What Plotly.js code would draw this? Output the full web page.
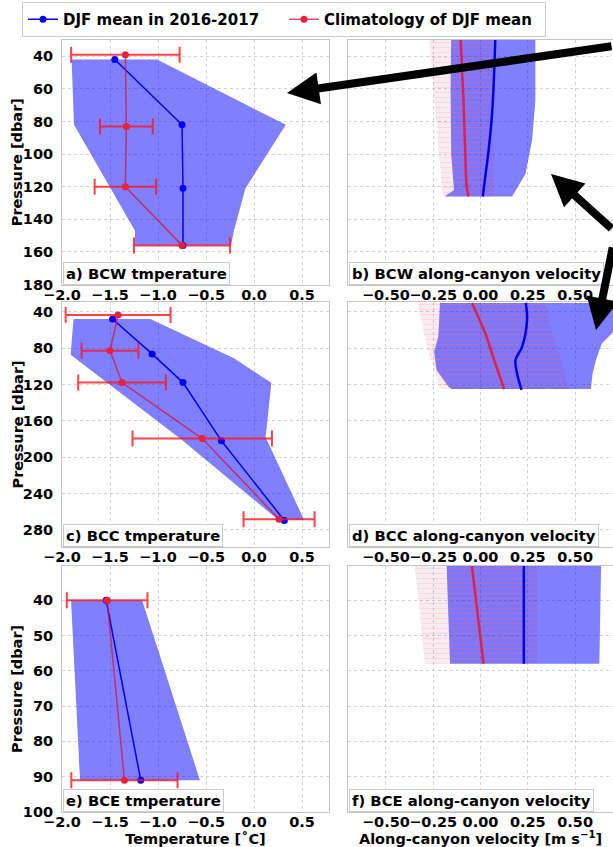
<!DOCTYPE html>
<html><head><meta charset="utf-8">
<script src="https://cdn.plot.ly/plotly-3.0.1.min.js"></script>
<style>html,body{margin:0;padding:0;background:#fff}</style>
</head><body><div id="chart" style="width:613px;height:847px"></div>
<script>
// ---------- Panel a: BCW temperature ----------
const bcwMeanT = [-1.45, -0.75, -0.74, -0.74];
const bcwMeanP = [42, 82, 121, 156];
const bcwClimT = [-1.34, -1.33, -1.34, -0.75];
const bcwClimP = [39, 83, 120, 156];
const bcwClimErr = [0.565, 0.275, 0.32, 0.50];
const bcwLoP = [42, 82, 147, 156];
const bcwLo = [-1.90, -1.875, -1.24, -1.24];
const bcwHiP = [42, 82, 121, 147, 156];
const bcwHi = [-1.01, 0.33, -0.09, -0.21, -0.24];

// ---------- Panel c: BCC temperature ----------
const bccMeanT = [-1.474, -1.062, -0.74, -0.34, 0.315];
const bccMeanP = [47.7, 86.2, 117.8, 182, 269.8];
const bccClimT = [-1.416, -1.50, -1.375, -0.54, 0.26];
const bccClimP = [43.3, 82.6, 117.8, 179.5, 268.3];
const bccClimErr = [0.546, 0.296, 0.456, 0.726, 0.37];
const bccLoP = [47.7, 87, 181, 269];
const bccLo = [-1.88, -1.91, -0.75, 0.25];
const bccHiP = [47.7, 91, 118, 178, 269];
const bccHi = [-1.08, -0.21, 0.18, 0.12, 0.52];

// ---------- Panel e: BCE temperature ----------
const bceMeanT = [-1.54, -1.18];
const bceMeanP = [40, 91];
const bceClimT = [-1.53, -1.35];
const bceClimP = [40, 91];
const bceClimErr = [0.42, 0.553];
const bceLoP = [40, 91];
const bceLo = [-1.906, -1.812];
const bceHiP = [40, 91];
const bceHi = [-1.166, -0.564];

// ---------- Panel b: BCW along-canyon velocity ----------
const bcwVelMeanP = [30, 59, 77, 97.5, 114, 126];
const bcwVelMean = [0.078, 0.069, 0.06, 0.043, 0.025, 0.012];
const bcwVelClimP = [30, 67, 97.5, 120, 126];
const bcwVelClim = [-0.105, -0.09, -0.081, -0.073, -0.064];
const bcwVelLoP = [30, 60, 100, 122, 126];
const bcwVelLo = [-0.155, -0.158, -0.155, -0.14, -0.19];
const bcwVelHiP = [30, 67, 91, 112, 126];
const bcwVelHi = [0.29, 0.29, 0.273, 0.238, 0.167];
const bcwVelClimBandP = [30, 126];
const bcwVelClimLo = [-0.27, -0.20];
const bcwVelClimHi = [0.06, 0.07];

// ---------- Panel d: BCC along-canyon velocity ----------
const bccVelMeanP = [30, 48.8, 78.2, 92.9, 107.5, 125.9];
const bccVelMean = [0.239, 0.246, 0.220, 0.185, 0.193, 0.217];
const bccVelClimP = [30, 63.5, 96.5, 125];
const bccVelClim = [-0.045, 0.025, 0.078, 0.125];
const bccVelLoP = [30, 67, 84, 104, 122, 125];
const bccVelLo = [-0.214, -0.223, -0.245, -0.232, -0.17, -0.152];
const bccVelHiP = [30, 58, 75, 93, 108, 125];
const bccVelHi = [0.76, 0.72, 0.64, 0.61, 0.592, 0.583];
const bccVelClimBandP = [30, 63.5, 86.8, 125];
const bccVelClimLo = [-0.33, -0.30, -0.27, -0.21];
const bccVelClimHi = [0.34, 0.38, 0.42, 0.47];

// ---------- Panel f: BCE along-canyon velocity ----------
const bceVelMeanP = [30, 58];
const bceVelMean = [0.229, 0.229];
const bceVelClimP = [30, 58];
const bceVelClim = [-0.046, 0.016];
const bceVelLoP = [30, 58];
const bceVelLo = [-0.179, -0.161];
const bceVelHiP = [30, 58];
const bceVelHi = [0.637, 0.628];
const bceVelClimBandP = [30, 58];
const bceVelClimLo = [-0.347, -0.294];
const bceVelClimHi = [0.30, 0.30];

// ---------- ticks / labels ----------
const tempTicks = [-2.0, -1.5, -1.0, -0.5, 0.0, 0.5];
const velTicks = [-0.50, -0.25, 0.00, 0.25, 0.50];
const bcwPTicks = [40, 60, 80, 100, 120, 140, 160, 180];
const bccPTicks = [40, 80, 120, 160, 200, 240, 280];
const bcePTicks = [40, 50, 60, 70, 80, 90, 100];
const panelLabels = ['a) BCW tmperature', 'b) BCW along-canyon velocity',
  'c) BCC tmperature', 'd) BCC along-canyon velocity',
  'e) BCE tmperature', 'f) BCE along-canyon velocity'];
const legendNames = ['DJF mean in 2016-2017', 'Climatology of DJF mean'];
const yTitle = 'Pressure [dbar]';
const xTitleLeft = 'Temperature [˚C]';
const xTitleRight = 'Along-canyon velocity [m s<sup>−1</sup>]';

// ---------- styles ----------
const BLUE = '#0000ff';
const RED = '#e8203c';
const SHADE = 'rgba(0,0,255,0.5)';
const FONT = 'DejaVu Sans';

function band(loP, lo, hiP, hi) {
  const x = lo.concat(hi.slice().reverse());
  const y = loP.concat(hiP.slice().reverse());
  return {x, y};
}

const traces = [];
function tempPanel(ax, loP, lo, hiP, hi, mT, mP, cT, cP, cErr, legend) {
  const b = band(loP, lo, hiP, hi);
  traces.push({type:'scatter', mode:'lines', x:b.x, y:b.y, fill:'toself', fillcolor:SHADE,
    line:{width:0}, xaxis:'x'+ax, yaxis:'y'+ax, showlegend:false, hoverinfo:'skip'});
  traces.push({type:'scatter', mode:'lines+markers', x:mT, y:mP, name:legendNames[0],
    line:{color:BLUE, width:1.5}, marker:{color:BLUE, size:7},
    xaxis:'x'+ax, yaxis:'y'+ax, showlegend:legend, legendrank:1});
  traces.push({type:'scatter', mode:'lines+markers', x:cT, y:cP, name:legendNames[1],
    line:{color:'rgba(215,20,60,0.75)', width:1.5}, marker:{color:RED, size:7},
    error_x:{type:'data', array:cErr, visible:true, color:'rgba(255,20,30,0.8)', thickness:2, width:8},
    xaxis:'x'+ax, yaxis:'y'+ax, showlegend:legend, legendrank:2});
}
function velPanel(ax, loP, lo, hiP, hi, bandP, bLo, bHi, mU, mP, cU, cP) {
  const b = band(loP, lo, hiP, hi);
  traces.push({type:'scatter', mode:'lines', x:b.x, y:b.y, fill:'toself', fillcolor:SHADE,
    line:{width:0}, xaxis:'x'+ax, yaxis:'y'+ax, showlegend:false, hoverinfo:'skip'});
  const r = band(bandP, bLo, bandP, bHi);
  traces.push({type:'scatter', mode:'lines', x:r.x, y:r.y, fill:'toself',
    fillcolor:'rgba(160,0,90,0.08)',
    fillpattern:{shape:'-', fgcolor:'rgba(255,120,120,0.35)', bgcolor:'rgba(160,0,90,0.08)', size:5, solidity:0.2, fillmode:'overlay'},
    line:{width:0}, xaxis:'x'+ax, yaxis:'y'+ax, showlegend:false, hoverinfo:'skip'});
  traces.push({type:'scatter', mode:'lines', x:mU, y:mP, line:{color:'#0000e0', width:2.5, shape:'spline'},
    xaxis:'x'+ax, yaxis:'y'+ax, showlegend:false});
  traces.push({type:'scatter', mode:'lines', x:cU, y:cP, line:{color:'#e0204a', width:2.5, shape:'spline'},
    xaxis:'x'+ax, yaxis:'y'+ax, showlegend:false});
}

tempPanel('', bcwLoP, bcwLo, bcwHiP, bcwHi, bcwMeanT, bcwMeanP, bcwClimT, bcwClimP, bcwClimErr, true);
velPanel('2', bcwVelLoP, bcwVelLo, bcwVelHiP, bcwVelHi, bcwVelClimBandP, bcwVelClimLo, bcwVelClimHi, bcwVelMean, bcwVelMeanP, bcwVelClim, bcwVelClimP);
tempPanel('3', bccLoP, bccLo, bccHiP, bccHi, bccMeanT, bccMeanP, bccClimT, bccClimP, bccClimErr, false);
velPanel('4', bccVelLoP, bccVelLo, bccVelHiP, bccVelHi, bccVelClimBandP, bccVelClimLo, bccVelClimHi, bccVelMean, bccVelMeanP, bccVelClim, bccVelClimP);
tempPanel('5', bceLoP, bceLo, bceHiP, bceHi, bceMeanT, bceMeanP, bceClimT, bceClimP, bceClimErr, false);
velPanel('6', bceVelLoP, bceVelLo, bceVelHiP, bceVelHi, bceVelClimBandP, bceVelClimLo, bceVelClimHi, bceVelMean, bceVelMeanP, bceVelClim, bceVelClimP);

const W = 613, H = 847;
const px = v => v / W, py = v => 1 - v / H;
const tickfont = {family:FONT, size:14.5, color:'#000', weight:'bold'};
const titleFont = {family:FONT, size:14.5, weight:'bold', color:'#000'};
const base = {showgrid:true, gridcolor:'#d2d2d2', griddash:'dot', gridwidth:1,
  showline:true, linecolor:'#c4c4c4', linewidth:1, mirror:true, zeroline:false,
  ticks:'', tickfont:tickfont, automargin:false, fixedrange:true, tickangle:0};
const leftDom = [px(62), px(329)], rightDom = [px(348), px(613)];
const rowPx = [[40, 284.5], [302, 547], [566, 812]];
const rowDom = rowPx.map(([t, b]) => [py(b), py(t)]);
const yRanges = [[180, 30], [299, 29], [100, 30.3]];
const yTicks = [bcwPTicks, bccPTicks, bcePTicks];

const layout = {width:W, height:H, margin:{l:0, r:0, t:0, b:0}, paper_bgcolor:'#fff', plot_bgcolor:'#fff',
  font:{family:FONT, color:'#000'}, showlegend:true,
  legend:{orientation:'h', x:px(22), y:py(2), xanchor:'left', yanchor:'top',
    bordercolor:'#cccccc', borderwidth:1, bgcolor:'#fff',
    font:{family:FONT, size:15, weight:'bold', color:'#000'},
    entrywidth:216, entrywidthmode:'pixels', itemwidth:30},
  annotations:[], shapes:[]};

for (let r = 0; r < 3; r++) {
  const li = 2*r + 1, ri = 2*r + 2;
  const lx = li === 1 ? 'xaxis' : 'xaxis' + li, ly = li === 1 ? 'yaxis' : 'yaxis' + li;
  const lxId = li === 1 ? 'x' : 'x' + li, lyId = li === 1 ? 'y' : 'y' + li;
  layout[lx] = Object.assign({}, base, {domain:leftDom, anchor:lyId, range:[-2.0, 0.78],
    tickvals:tempTicks, tickformat:'.1f', ticklabelstandoff:-3});
  layout[ly] = Object.assign({}, base, {domain:rowDom[r], anchor:lxId, range:yRanges[r],
    tickvals:yTicks[r], ticklabelstandoff:5});
  layout['xaxis' + ri] = Object.assign({}, base, {domain:rightDom, anchor:'y' + ri, range:[-0.7, 0.7],
    tickvals:velTicks, tickformat:'.2f', ticklabelstandoff:-3});
  layout['yaxis' + ri] = Object.assign({}, base, {domain:rowDom[r], anchor:'x' + ri, range:yRanges[r],
    tickvals:yTicks[r], showticklabels:false});
  if (r === 2) {
    layout[lx].title = {text:xTitleLeft, font:titleFont, standoff:17};
    layout['xaxis' + ri].title = {text:xTitleRight, font:titleFont, standoff:17};
  }
  // y-axis title of the row
  layout.annotations.push({text:yTitle, xref:'paper', yref:'paper', x:px(17), y:py((rowPx[r][0] + rowPx[r][1]) / 2),
    xanchor:'center', yanchor:'middle', textangle:-90, showarrow:false, font:titleFont});
  [[lxId, lyId, panelLabels[2*r]], ['x' + ri, 'y' + ri, panelLabels[2*r+1]]].forEach(([xa, ya, txt]) => {
    layout.annotations.push({text:txt, xref:xa + ' domain', yref:ya + ' domain', x:0.005, y:0.0,
      xanchor:'left', yanchor:'bottom', showarrow:false, bgcolor:'rgba(255,255,255,0.85)',
      bordercolor:'#cccccc', borderwidth:1, borderpad:2,
      font:{family:FONT, size:14.8, weight:'bold', color:'#000'}});
  });
}

// black arrows drawn over the figure
const arrows = [
  {hx:287, hy:93, ax:350, ay:-47},
  {hx:551, hy:174, ax:95, ay:56},
  {hx:596, hy:330, ax:30, ay:-84}
];
arrows.forEach(a => layout.annotations.push({xref:'paper', yref:'paper', x:px(a.hx), y:py(a.hy),
  ax:a.ax, ay:a.ay, text:'', showarrow:true, arrowhead:2, arrowsize:0.8, arrowwidth:8,
  arrowcolor:'#000', standoff:0, startstandoff:0}));

Plotly.newPlot('chart', traces, layout, {staticPlot:true, displayModeBar:false});
</script></body></html>
